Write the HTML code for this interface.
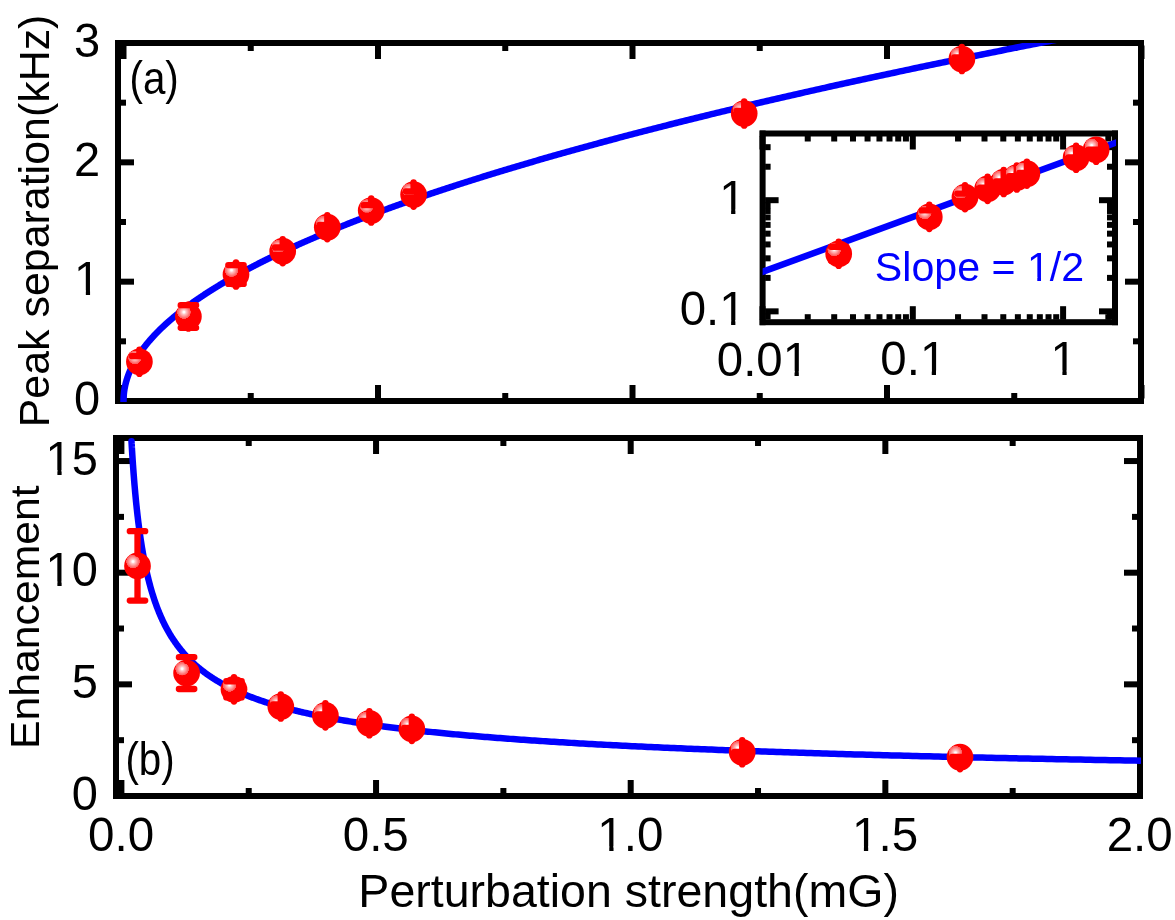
<!DOCTYPE html>
<html lang="en"><head><meta charset="utf-8"><title>Peak separation and enhancement vs perturbation strength</title>
<style>html,body{margin:0;padding:0;background:#fff;}body{width:1175px;height:920px;overflow:hidden;}svg{display:block;}text{font-family:"Liberation Sans",sans-serif;}</style>
</head><body>
<svg width="1175" height="920" viewBox="0 0 1175 920" font-family="'Liberation Sans', sans-serif">
<defs><radialGradient id="sph" cx="0.332" cy="0.336" r="0.256" fx="0.332" fy="0.336"><stop offset="0" stop-color="#fff"/><stop offset="0.13" stop-color="#fff"/><stop offset="0.3" stop-color="#ffcccc"/><stop offset="0.55" stop-color="#ffa0a0"/><stop offset="0.78" stop-color="#ff7676"/><stop offset="0.97" stop-color="#ff5a5a"/><stop offset="1" stop-color="#f00"/></radialGradient>
<clipPath id="ca"><rect x="118" y="43" width="1023" height="359"/></clipPath>
<clipPath id="cb"><rect x="116" y="433" width="1025" height="363"/></clipPath>
<clipPath id="ci"><rect x="762.6" y="133.5" width="353.4" height="188.7"/></clipPath>
</defs>
<rect width="1175" height="920" fill="#fff"/>
<rect x="115.00" y="40.00" width="1029.00" height="6.00" fill="#000"/>
<rect x="115.00" y="398.00" width="1029.00" height="6.00" fill="#000"/>
<rect x="115.00" y="40.00" width="6.00" height="364.00" fill="#000"/>
<rect x="1138.00" y="40.00" width="6.00" height="364.00" fill="#000"/>
<rect x="120.50" y="45.50" width="6.00" height="13.50" fill="#000"/>
<rect x="120.50" y="385.00" width="6.00" height="13.50" fill="#000"/>
<rect x="375.00" y="45.50" width="6.00" height="13.50" fill="#000"/>
<rect x="375.00" y="385.00" width="6.00" height="13.50" fill="#000"/>
<rect x="629.50" y="45.50" width="6.00" height="13.50" fill="#000"/>
<rect x="629.50" y="385.00" width="6.00" height="13.50" fill="#000"/>
<rect x="884.00" y="45.50" width="6.00" height="13.50" fill="#000"/>
<rect x="884.00" y="385.00" width="6.00" height="13.50" fill="#000"/>
<rect x="1138.50" y="45.50" width="6.00" height="13.50" fill="#000"/>
<rect x="1138.50" y="385.00" width="6.00" height="13.50" fill="#000"/>
<rect x="247.75" y="45.50" width="6.00" height="5.50" fill="#000"/>
<rect x="247.75" y="393.00" width="6.00" height="5.50" fill="#000"/>
<rect x="502.25" y="45.50" width="6.00" height="5.50" fill="#000"/>
<rect x="502.25" y="393.00" width="6.00" height="5.50" fill="#000"/>
<rect x="756.75" y="45.50" width="6.00" height="5.50" fill="#000"/>
<rect x="756.75" y="393.00" width="6.00" height="5.50" fill="#000"/>
<rect x="1011.25" y="45.50" width="6.00" height="5.50" fill="#000"/>
<rect x="1011.25" y="393.00" width="6.00" height="5.50" fill="#000"/>
<rect x="120.50" y="398.00" width="13.50" height="6.00" fill="#000"/>
<rect x="1125.00" y="398.00" width="13.50" height="6.00" fill="#000"/>
<rect x="120.50" y="278.67" width="13.50" height="6.00" fill="#000"/>
<rect x="1125.00" y="278.67" width="13.50" height="6.00" fill="#000"/>
<rect x="120.50" y="159.34" width="13.50" height="6.00" fill="#000"/>
<rect x="1125.00" y="159.34" width="13.50" height="6.00" fill="#000"/>
<rect x="120.50" y="40.01" width="13.50" height="6.00" fill="#000"/>
<rect x="1125.00" y="40.01" width="13.50" height="6.00" fill="#000"/>
<rect x="120.50" y="338.33" width="5.50" height="6.00" fill="#000"/>
<rect x="1133.00" y="338.33" width="5.50" height="6.00" fill="#000"/>
<rect x="120.50" y="219.00" width="5.50" height="6.00" fill="#000"/>
<rect x="1133.00" y="219.00" width="5.50" height="6.00" fill="#000"/>
<rect x="120.50" y="99.68" width="5.50" height="6.00" fill="#000"/>
<rect x="1133.00" y="99.68" width="5.50" height="6.00" fill="#000"/>
<path clip-path="url(#ca)" d="M123.50 403.00L123.50 401.00L123.50 400.37L123.51 399.74L123.53 399.11L123.55 398.48L123.57 397.86L123.60 397.23L123.64 396.60L123.68 395.97L123.73 395.34L123.78 394.71L123.84 394.08L123.91 393.45L123.98 392.82L124.05 392.20L124.14 391.57L124.22 390.94L124.32 390.31L124.42 389.68L124.52 389.05L124.63 388.42L124.75 387.79L124.87 387.16L125.00 386.53L125.13 385.91L125.27 385.28L125.41 384.65L125.56 384.02L125.72 383.39L125.88 382.76L126.05 382.13L126.22 381.50L126.40 380.87L126.58 380.25L126.77 379.62L126.96 378.99L127.16 378.36L127.37 377.73L127.58 377.10L127.80 376.47L128.02 375.84L128.25 375.21L128.49 374.59L128.73 373.96L128.97 373.33L129.23 372.70L129.48 372.07L129.75 371.44L130.02 370.81L130.29 370.18L130.57 369.55L130.86 368.92L131.15 368.30L131.44 367.67L131.75 367.04L132.05 366.41L132.37 365.78L132.69 365.15L133.01 364.52L133.34 363.89L133.68 363.26L134.02 362.64L134.37 362.01L134.72 361.38L135.08 360.75L135.45 360.12L135.82 359.49L136.19 358.86L136.58 358.23L136.96 357.60L137.36 356.98L137.75 356.35L138.16 355.72L138.57 355.09L138.98 354.46L139.41 353.83L139.83 353.20L140.27 352.57L140.70 351.94L141.15 351.31L141.60 350.69L142.05 350.06L142.51 349.43L142.98 348.80L143.45 348.17L143.93 347.54L144.41 346.91L144.90 346.28L145.40 345.65L145.90 345.03L146.41 344.40L146.92 343.77L147.43 343.14L147.96 342.51L148.49 341.88L149.02 341.25L149.56 340.62L150.11 339.99L150.66 339.37L151.22 338.74L151.78 338.11L152.35 337.48L152.92 336.85L153.50 336.22L154.09 335.59L154.68 334.96L155.27 334.33L155.88 333.71L156.48 333.08L157.10 332.45L157.72 331.82L158.34 331.19L158.97 330.56L159.61 329.93L160.25 329.30L160.90 328.67L161.55 328.04L162.21 327.42L162.87 326.79L163.54 326.16L164.22 325.53L164.90 324.90L165.59 324.27L166.28 323.64L166.98 323.01L167.68 322.38L168.39 321.76L169.11 321.13L169.83 320.50L170.56 319.87L171.29 319.24L172.03 318.61L172.77 317.98L173.52 317.35L174.28 316.72L175.04 316.10L175.80 315.47L176.57 314.84L177.35 314.21L178.14 313.58L178.92 312.95L179.72 312.32L180.52 311.69L181.33 311.06L182.14 310.43L182.95 309.81L183.78 309.18L184.61 308.55L185.44 307.92L186.28 307.29L187.12 306.66L187.98 306.03L188.83 305.40L189.70 304.77L190.56 304.15L191.44 303.52L192.32 302.89L193.20 302.26L194.09 301.63L194.99 301.00L195.89 300.37L196.80 299.74L197.71 299.11L198.63 298.49L199.56 297.86L200.49 297.23L201.42 296.60L202.36 295.97L203.31 295.34L204.26 294.71L205.22 294.08L206.19 293.45L207.16 292.83L208.13 292.20L209.11 291.57L210.10 290.94L211.09 290.31L212.09 289.68L213.10 289.05L214.10 288.42L215.12 287.79L216.14 287.16L217.17 286.54L218.20 285.91L219.24 285.28L220.28 284.65L221.33 284.02L222.38 283.39L223.44 282.76L224.51 282.13L225.58 281.50L226.66 280.88L227.74 280.25L228.83 279.62L229.93 278.99L231.03 278.36L232.13 277.73L233.24 277.10L234.36 276.47L235.48 275.84L236.61 275.22L237.75 274.59L238.88 273.96L240.03 273.33L241.18 272.70L242.34 272.07L243.50 271.44L244.67 270.81L245.84 270.18L247.02 269.55L248.20 268.93L249.40 268.30L250.59 267.67L251.79 267.04L253.00 266.41L254.21 265.78L255.43 265.15L256.66 264.52L257.89 263.89L259.12 263.27L260.36 262.64L261.61 262.01L262.86 261.38L264.12 260.75L265.39 260.12L266.66 259.49L267.93 258.86L269.21 258.23L270.50 257.61L271.79 256.98L273.09 256.35L274.39 255.72L275.70 255.09L277.02 254.46L278.34 253.83L279.66 253.20L281.00 252.57L282.33 251.94L283.68 251.32L285.03 250.69L286.38 250.06L287.74 249.43L289.11 248.80L290.48 248.17L291.85 247.54L293.24 246.91L294.63 246.28L296.02 245.66L297.42 245.03L298.83 244.40L300.24 243.77L301.65 243.14L303.08 242.51L304.50 241.88L305.94 241.25L307.38 240.62L308.82 240.00L310.27 239.37L311.73 238.74L313.19 238.11L314.66 237.48L316.13 236.85L317.61 236.22L319.09 235.59L320.58 234.96L322.08 234.34L323.58 233.71L325.09 233.08L326.60 232.45L328.12 231.82L329.64 231.19L331.17 230.56L332.71 229.93L334.25 229.30L335.80 228.67L337.35 228.05L338.91 227.42L340.47 226.79L342.04 226.16L343.62 225.53L345.20 224.90L346.78 224.27L348.38 223.64L349.97 223.01L351.58 222.39L353.19 221.76L354.80 221.13L356.42 220.50L358.05 219.87L359.68 219.24L361.32 218.61L362.96 217.98L364.61 217.35L366.26 216.73L367.92 216.10L369.59 215.47L371.26 214.84L372.94 214.21L374.62 213.58L376.31 212.95L378.00 212.32L379.70 211.69L381.40 211.06L383.12 210.44L384.83 209.81L386.55 209.18L388.28 208.55L390.02 207.92L391.75 207.29L393.50 206.66L395.25 206.03L397.01 205.40L398.77 204.78L400.53 204.15L402.31 203.52L404.09 202.89L405.87 202.26L407.66 201.63L409.46 201.00L411.26 200.37L413.06 199.74L414.88 199.12L416.70 198.49L418.52 197.86L420.35 197.23L422.18 196.60L424.02 195.97L425.87 195.34L427.72 194.71L429.58 194.08L431.45 193.45L433.31 192.83L435.19 192.20L437.07 191.57L438.96 190.94L440.85 190.31L442.74 189.68L444.65 189.05L446.56 188.42L448.47 187.79L450.39 187.17L452.32 186.54L454.25 185.91L456.19 185.28L458.13 184.65L460.08 184.02L462.03 183.39L463.99 182.76L465.96 182.13L467.93 181.51L469.90 180.88L471.89 180.25L473.87 179.62L475.87 178.99L477.87 178.36L479.87 177.73L481.88 177.10L483.90 176.47L485.92 175.85L487.95 175.22L489.98 174.59L492.02 173.96L494.06 173.33L496.11 172.70L498.17 172.07L500.23 171.44L502.30 170.81L504.37 170.18L506.45 169.56L508.53 168.93L510.62 168.30L512.72 167.67L514.82 167.04L516.93 166.41L519.04 165.78L521.16 165.15L523.28 164.52L525.41 163.90L527.54 163.27L529.68 162.64L531.83 162.01L533.98 161.38L536.14 160.75L538.30 160.12L540.47 159.49L542.65 158.86L544.83 158.24L547.01 157.61L549.20 156.98L551.40 156.35L553.61 155.72L555.81 155.09L558.03 154.46L560.25 153.83L562.47 153.20L564.70 152.57L566.94 151.95L569.18 151.32L571.43 150.69L573.69 150.06L575.94 149.43L578.21 148.80L580.48 148.17L582.76 147.54L585.04 146.91L587.33 146.29L589.62 145.66L591.92 145.03L594.22 144.40L596.53 143.77L598.85 143.14L601.17 142.51L603.50 141.88L605.83 141.25L608.17 140.63L610.51 140.00L612.86 139.37L615.22 138.74L617.58 138.11L619.95 137.48L622.32 136.85L624.70 136.22L627.08 135.59L629.47 134.97L631.87 134.34L634.27 133.71L636.67 133.08L639.09 132.45L641.50 131.82L643.93 131.19L646.36 130.56L648.79 129.93L651.23 129.30L653.68 128.68L656.13 128.05L658.59 127.42L661.05 126.79L663.52 126.16L665.99 125.53L668.47 124.90L670.96 124.27L673.45 123.64L675.95 123.02L678.45 122.39L680.96 121.76L683.47 121.13L685.99 120.50L688.52 119.87L691.05 119.24L693.58 118.61L696.12 117.98L698.67 117.36L701.23 116.73L703.79 116.10L706.35 115.47L708.92 114.84L711.50 114.21L714.08 113.58L716.67 112.95L719.26 112.32L721.86 111.69L724.46 111.07L727.07 110.44L729.69 109.81L732.31 109.18L734.94 108.55L737.57 107.92L740.21 107.29L742.85 106.66L745.50 106.03L748.16 105.41L750.82 104.78L753.48 104.15L756.16 103.52L758.83 102.89L761.52 102.26L764.21 101.63L766.90 101.00L769.60 100.37L772.31 99.75L775.02 99.12L777.74 98.49L780.46 97.86L783.19 97.23L785.92 96.60L788.66 95.97L791.41 95.34L794.16 94.71L796.92 94.08L799.68 93.46L802.45 92.83L805.22 92.20L808.00 91.57L810.79 90.94L813.58 90.31L816.38 89.68L819.18 89.05L821.99 88.42L824.80 87.80L827.62 87.17L830.44 86.54L833.28 85.91L836.11 85.28L838.95 84.65L841.80 84.02L844.65 83.39L847.51 82.76L850.38 82.14L853.25 81.51L856.12 80.88L859.00 80.25L861.89 79.62L864.78 78.99L867.68 78.36L870.59 77.73L873.50 77.10L876.41 76.48L879.33 75.85L882.26 75.22L885.19 74.59L888.13 73.96L891.07 73.33L894.02 72.70L896.98 72.07L899.94 71.44L902.91 70.81L905.88 70.19L908.86 69.56L911.84 68.93L914.83 68.30L917.82 67.67L920.82 67.04L923.83 66.41L926.84 65.78L929.86 65.15L932.88 64.53L935.91 63.90L938.94 63.27L941.98 62.64L945.03 62.01L948.08 61.38L951.14 60.75L954.20 60.12L957.27 59.49L960.34 58.87L963.42 58.24L966.51 57.61L969.60 56.98L972.69 56.35L975.80 55.72L978.90 55.09L982.02 54.46L985.14 53.83L988.26 53.20L991.39 52.58L994.53 51.95L997.67 51.32L1000.82 50.69L1003.97 50.06L1007.13 49.43L1010.29 48.80L1013.46 48.17L1016.64 47.54L1019.82 46.92L1023.00 46.29L1026.20 45.66L1029.40 45.03L1032.60 44.40L1035.81 43.77L1039.02 43.14L1042.24 42.51L1045.47 41.88L1048.70 41.26L1051.94 40.63L1055.18 40.00L1058.43 39.37L1061.69 38.74L1064.95 38.11L1068.22 37.48L1071.49 36.85L1074.76 36.22L1078.05 35.59L1081.34 34.97L1084.63 34.34L1087.93 33.71L1091.24 33.08L1094.55 32.45L1097.86 31.82L1101.19 31.19L1104.52 30.56L1107.85 29.93L1111.19 29.31L1114.53 28.68L1117.89 28.05L1121.24 27.42L1124.60 26.79L1127.97 26.16L1131.35 25.53L1134.72 24.90L1138.11 24.27L1141.50 23.65" stroke="#00f" stroke-width="6.5" fill="none" stroke-linejoin="round"/>
<rect x="113.00" y="435.00" width="1030.00" height="6.00" fill="#000"/>
<rect x="113.00" y="793.00" width="1030.00" height="6.00" fill="#000"/>
<rect x="113.00" y="435.00" width="6.00" height="364.00" fill="#000"/>
<rect x="1137.00" y="435.00" width="6.00" height="364.00" fill="#000"/>
<rect x="118.40" y="440.50" width="6.00" height="13.50" fill="#000"/>
<rect x="118.40" y="780.00" width="6.00" height="13.50" fill="#000"/>
<rect x="373.05" y="440.50" width="6.00" height="13.50" fill="#000"/>
<rect x="373.05" y="780.00" width="6.00" height="13.50" fill="#000"/>
<rect x="627.70" y="440.50" width="6.00" height="13.50" fill="#000"/>
<rect x="627.70" y="780.00" width="6.00" height="13.50" fill="#000"/>
<rect x="882.35" y="440.50" width="6.00" height="13.50" fill="#000"/>
<rect x="882.35" y="780.00" width="6.00" height="13.50" fill="#000"/>
<rect x="1137.00" y="440.50" width="6.00" height="13.50" fill="#000"/>
<rect x="1137.00" y="780.00" width="6.00" height="13.50" fill="#000"/>
<rect x="245.73" y="440.50" width="6.00" height="5.50" fill="#000"/>
<rect x="245.73" y="788.00" width="6.00" height="5.50" fill="#000"/>
<rect x="500.38" y="440.50" width="6.00" height="5.50" fill="#000"/>
<rect x="500.38" y="788.00" width="6.00" height="5.50" fill="#000"/>
<rect x="755.02" y="440.50" width="6.00" height="5.50" fill="#000"/>
<rect x="755.02" y="788.00" width="6.00" height="5.50" fill="#000"/>
<rect x="1009.67" y="440.50" width="6.00" height="5.50" fill="#000"/>
<rect x="1009.67" y="788.00" width="6.00" height="5.50" fill="#000"/>
<rect x="118.50" y="793.00" width="13.50" height="6.00" fill="#000"/>
<rect x="1124.00" y="793.00" width="13.50" height="6.00" fill="#000"/>
<rect x="118.50" y="681.35" width="13.50" height="6.00" fill="#000"/>
<rect x="1124.00" y="681.35" width="13.50" height="6.00" fill="#000"/>
<rect x="118.50" y="569.70" width="13.50" height="6.00" fill="#000"/>
<rect x="1124.00" y="569.70" width="13.50" height="6.00" fill="#000"/>
<rect x="118.50" y="458.05" width="13.50" height="6.00" fill="#000"/>
<rect x="1124.00" y="458.05" width="13.50" height="6.00" fill="#000"/>
<rect x="118.50" y="737.17" width="5.50" height="6.00" fill="#000"/>
<rect x="1132.00" y="737.17" width="5.50" height="6.00" fill="#000"/>
<rect x="118.50" y="625.52" width="5.50" height="6.00" fill="#000"/>
<rect x="1132.00" y="625.52" width="5.50" height="6.00" fill="#000"/>
<rect x="118.50" y="513.88" width="5.50" height="6.00" fill="#000"/>
<rect x="1132.00" y="513.88" width="5.50" height="6.00" fill="#000"/>
<path clip-path="url(#cb)" d="M131.49 441.33L131.49 441.33L131.49 441.33L131.49 441.33L131.49 441.34L131.49 441.34L131.50 441.35L131.50 441.36L131.50 441.37L131.50 441.39L131.50 441.41L131.50 441.44L131.50 441.47L131.50 441.51L131.51 441.56L131.51 441.61L131.51 441.67L131.52 441.73L131.52 441.81L131.53 441.89L131.53 441.99L131.54 442.09L131.54 442.20L131.55 442.33L131.56 442.46L131.57 442.61L131.58 442.77L131.59 442.94L131.60 443.12L131.61 443.32L131.62 443.53L131.63 443.75L131.65 443.99L131.66 444.24L131.68 444.51L131.69 444.80L131.71 445.10L131.73 445.42L131.75 445.75L131.77 446.10L131.79 446.47L131.82 446.85L131.84 447.26L131.87 447.68L131.89 448.12L131.92 448.58L131.95 449.06L131.98 449.55L132.01 450.07L132.04 450.61L132.08 451.16L132.11 451.74L132.15 452.33L132.19 452.95L132.23 453.58L132.27 454.24L132.31 454.91L132.36 455.61L132.41 456.33L132.45 457.07L132.50 457.82L132.55 458.60L132.61 459.40L132.66 460.22L132.72 461.06L132.78 461.92L132.84 462.80L132.90 463.69L132.96 464.61L133.03 465.55L133.10 466.51L133.17 467.48L133.24 468.48L133.31 469.49L133.39 470.53L133.46 471.58L133.54 472.64L133.63 473.73L133.71 474.83L133.80 475.95L133.88 477.09L133.98 478.24L134.07 479.41L134.16 480.60L134.26 481.80L134.36 483.01L134.46 484.24L134.57 485.48L134.68 486.74L134.79 488.01L134.90 489.29L135.01 490.59L135.13 491.89L135.25 493.21L135.37 494.54L135.50 495.88L135.63 497.23L135.76 498.59L135.89 499.96L136.02 501.34L136.16 502.73L136.30 504.12L136.45 505.53L136.60 506.94L136.75 508.35L136.90 509.78L137.06 511.21L137.21 512.64L137.38 514.08L137.54 515.52L137.71 516.97L137.88 518.42L138.05 519.88L138.23 521.34L138.41 522.80L138.60 524.26L138.78 525.72L138.97 527.19L139.17 528.66L139.36 530.12L139.56 531.59L139.77 533.06L139.97 534.53L140.18 536.00L140.40 537.46L140.61 538.93L140.83 540.39L141.06 541.85L141.29 543.31L141.52 544.77L141.75 546.22L141.99 547.67L142.23 549.12L142.48 550.56L142.73 552.00L142.98 553.44L143.24 554.87L143.50 556.30L143.76 557.73L144.03 559.14L144.31 560.56L144.58 561.97L144.86 563.37L145.15 564.77L145.44 566.16L145.73 567.54L146.02 568.92L146.33 570.30L146.63 571.66L146.94 573.02L147.25 574.38L147.57 575.73L147.89 577.07L148.22 578.40L148.55 579.73L148.88 581.05L149.22 582.36L149.56 583.66L149.91 584.96L150.26 586.25L150.62 587.54L150.98 588.81L151.34 590.08L151.71 591.34L152.09 592.59L152.47 593.84L152.85 595.07L153.24 596.30L153.63 597.52L154.03 598.74L154.43 599.94L154.84 601.14L155.25 602.33L155.67 603.51L156.09 604.68L156.52 605.85L156.95 607.01L157.39 608.16L157.83 609.30L158.27 610.43L158.72 611.56L159.18 612.67L159.64 613.78L160.11 614.88L160.58 615.98L161.06 617.06L161.54 618.14L162.03 619.21L162.52 620.27L163.02 621.33L163.52 622.37L164.03 623.41L164.54 624.44L165.06 625.46L165.58 626.48L166.11 627.49L166.65 628.49L167.19 629.48L167.74 630.46L168.29 631.44L168.85 632.41L169.41 633.37L169.98 634.33L170.55 635.27L171.13 636.21L171.72 637.15L172.31 638.07L172.91 638.99L173.51 639.90L174.12 640.81L174.73 641.70L175.35 642.59L175.98 643.48L176.61 644.35L177.25 645.22L177.90 646.08L178.55 646.94L179.20 647.79L179.87 648.63L180.54 649.47L181.21 650.30L181.89 651.12L182.58 651.93L183.27 652.74L183.97 653.55L184.68 654.34L185.39 655.13L186.11 655.92L186.83 656.70L187.56 657.47L188.30 658.23L189.05 658.99L189.80 659.75L190.55 660.50L191.32 661.24L192.09 661.97L192.86 662.70L193.65 663.43L194.44 664.15L195.24 664.86L196.04 665.57L196.85 666.27L197.67 666.97L198.49 667.66L199.32 668.35L200.16 669.03L201.00 669.70L201.85 670.37L202.71 671.04L203.58 671.69L204.45 672.35L205.33 673.00L206.21 673.64L207.11 674.28L208.01 674.92L208.91 675.55L209.83 676.17L210.75 676.79L211.68 677.40L212.61 678.01L213.56 678.62L214.51 679.22L215.47 679.82L216.43 680.41L217.40 680.99L218.38 681.58L219.37 682.16L220.36 682.73L221.37 683.30L222.38 683.86L223.39 684.42L224.42 684.98L225.45 685.53L226.49 686.08L227.54 686.62L228.60 687.16L229.66 687.70L230.73 688.23L231.81 688.76L232.89 689.28L233.99 689.80L235.09 690.32L236.20 690.83L237.32 691.34L238.44 691.84L239.58 692.34L240.72 692.84L241.87 693.33L243.03 693.82L244.19 694.31L245.37 694.79L246.55 695.27L247.74 695.75L248.94 696.22L250.14 696.69L251.36 697.15L252.58 697.62L253.81 698.07L255.05 698.53L256.30 698.98L257.56 699.43L258.82 699.88L260.10 700.32L261.38 700.76L262.67 701.19L263.97 701.63L265.27 702.06L266.59 702.48L267.91 702.91L269.25 703.33L270.59 703.74L271.94 704.16L273.30 704.57L274.67 704.98L276.04 705.39L277.43 705.79L278.82 706.19L280.23 706.59L281.64 706.98L283.06 707.37L284.49 707.76L285.93 708.15L287.37 708.53L288.83 708.92L290.30 709.29L291.77 709.67L293.26 710.04L294.75 710.41L296.25 710.78L297.76 711.15L299.28 711.51L300.81 711.87L302.35 712.23L303.90 712.59L305.46 712.94L307.03 713.29L308.60 713.64L310.19 713.99L311.79 714.33L313.39 714.68L315.01 715.02L316.63 715.35L318.26 715.69L319.91 716.02L321.56 716.35L323.22 716.68L324.89 717.01L326.57 717.33L328.27 717.65L329.97 717.97L331.68 718.29L333.40 718.61L335.13 718.92L336.87 719.23L338.62 719.54L340.38 719.85L342.15 720.16L343.93 720.46L345.72 720.76L347.52 721.06L349.33 721.36L351.15 721.66L352.98 721.95L354.82 722.25L356.67 722.54L358.53 722.82L360.41 723.11L362.29 723.40L364.18 723.68L366.08 723.96L367.99 724.24L369.92 724.52L371.85 724.80L373.79 725.07L375.75 725.34L377.71 725.62L379.69 725.89L381.67 726.15L383.67 726.42L385.67 726.68L387.69 726.95L389.72 727.21L391.76 727.47L393.81 727.73L395.87 727.98L397.94 728.24L400.02 728.49L402.11 728.74L404.22 728.99L406.33 729.24L408.46 729.49L410.59 729.74L412.74 729.98L414.90 730.23L417.06 730.47L419.24 730.71L421.44 730.95L423.64 731.18L425.85 731.42L428.08 731.65L430.31 731.89L432.56 732.12L434.82 732.35L437.08 732.58L439.37 732.81L441.66 733.03L443.96 733.26L446.27 733.48L448.60 733.70L450.94 733.93L453.29 734.15L455.65 734.37L458.02 734.58L460.40 734.80L462.80 735.01L465.20 735.23L467.62 735.44L470.05 735.65L472.49 735.86L474.95 736.07L477.41 736.28L479.89 736.49L482.38 736.69L484.88 736.90L487.39 737.10L489.91 737.30L492.45 737.50L495.00 737.70L497.56 737.90L500.13 738.10L502.71 738.29L505.31 738.49L507.92 738.68L510.54 738.88L513.17 739.07L515.81 739.26L518.47 739.45L521.14 739.64L523.82 739.83L526.51 740.01L529.22 740.20L531.94 740.39L534.67 740.57L537.41 740.75L540.17 740.94L542.93 741.12L545.71 741.30L548.50 741.48L551.31 741.65L554.13 741.83L556.96 742.01L559.80 742.18L562.66 742.36L565.52 742.53L568.40 742.70L571.30 742.87L574.20 743.05L577.12 743.22L580.05 743.38L583.00 743.55L585.96 743.72L588.93 743.89L591.91 744.05L594.91 744.22L597.92 744.38L600.94 744.54L603.97 744.70L607.02 744.87L610.08 745.03L613.16 745.19L616.24 745.34L619.35 745.50L622.46 745.66L625.59 745.82L628.73 745.97L631.88 746.13L635.05 746.28L638.23 746.43L641.42 746.59L644.63 746.74L647.85 746.89L651.08 747.04L654.33 747.19L657.59 747.34L660.87 747.48L664.15 747.63L667.46 747.78L670.77 747.92L674.10 748.07L677.44 748.21L680.80 748.36L684.17 748.50L687.55 748.64L690.95 748.78L694.36 748.92L697.79 749.06L701.23 749.20L704.68 749.34L708.14 749.48L711.63 749.62L715.12 749.75L718.63 749.89L722.15 750.03L725.69 750.16L729.24 750.29L732.80 750.43L736.38 750.56L739.98 750.69L743.58 750.82L747.21 750.96L750.84 751.09L754.49 751.22L758.16 751.34L761.84 751.47L765.53 751.60L769.24 751.73L772.96 751.85L776.70 751.98L780.45 752.11L784.21 752.23L787.99 752.36L791.79 752.48L795.60 752.60L799.42 752.72L803.26 752.85L807.11 752.97L810.98 753.09L814.87 753.21L818.76 753.33L822.68 753.45L826.60 753.57L830.54 753.69L834.50 753.80L838.47 753.92L842.46 754.04L846.46 754.15L850.48 754.27L854.51 754.38L858.56 754.50L862.62 754.61L866.69 754.72L870.79 754.84L874.89 754.95L879.02 755.06L883.15 755.17L887.31 755.28L891.47 755.39L895.66 755.50L899.86 755.61L904.07 755.72L908.30 755.83L912.55 755.94L916.81 756.05L921.08 756.15L925.37 756.26L929.68 756.36L934.00 756.47L938.34 756.58L942.69 756.68L947.06 756.78L951.45 756.89L955.85 756.99L960.26 757.09L964.70 757.20L969.14 757.30L973.61 757.40L978.09 757.50L982.58 757.60L987.09 757.70L991.62 757.80L996.16 757.90L1000.72 758.00L1005.30 758.10L1009.89 758.20L1014.49 758.29L1019.12 758.39L1023.76 758.49L1028.41 758.58L1033.08 758.68L1037.77 758.78L1042.47 758.87L1047.19 758.97L1051.93 759.06L1056.68 759.15L1061.45 759.25L1066.24 759.34L1071.04 759.43L1075.86 759.53L1080.69 759.62L1085.54 759.71L1090.41 759.80L1095.29 759.89L1100.20 759.98L1105.11 760.07L1110.05 760.16L1115.00 760.25L1119.96 760.34L1124.95 760.43L1129.95 760.52L1134.97 760.61L1140.00 760.69" stroke="#00f" stroke-width="6.5" fill="none" stroke-linejoin="round" stroke-linecap="round"/>
<rect x="759.60" y="130.50" width="358.40" height="6.00" fill="#000"/>
<rect x="759.60" y="319.20" width="358.40" height="6.00" fill="#000"/>
<rect x="759.60" y="130.50" width="6.00" height="194.70" fill="#000"/>
<rect x="1112.00" y="130.50" width="6.00" height="194.70" fill="#000"/>
<rect x="759.50" y="136.00" width="6.00" height="13.50" fill="#000"/>
<rect x="759.50" y="306.20" width="6.00" height="13.50" fill="#000"/>
<rect x="909.80" y="136.00" width="6.00" height="13.50" fill="#000"/>
<rect x="909.80" y="306.20" width="6.00" height="13.50" fill="#000"/>
<rect x="1060.10" y="136.00" width="6.00" height="13.50" fill="#000"/>
<rect x="1060.10" y="306.20" width="6.00" height="13.50" fill="#000"/>
<rect x="804.74" y="136.00" width="6.00" height="5.50" fill="#000"/>
<rect x="804.74" y="314.20" width="6.00" height="5.50" fill="#000"/>
<rect x="831.21" y="136.00" width="6.00" height="5.50" fill="#000"/>
<rect x="831.21" y="314.20" width="6.00" height="5.50" fill="#000"/>
<rect x="849.99" y="136.00" width="6.00" height="5.50" fill="#000"/>
<rect x="849.99" y="314.20" width="6.00" height="5.50" fill="#000"/>
<rect x="864.56" y="136.00" width="6.00" height="5.50" fill="#000"/>
<rect x="864.56" y="314.20" width="6.00" height="5.50" fill="#000"/>
<rect x="876.46" y="136.00" width="6.00" height="5.50" fill="#000"/>
<rect x="876.46" y="314.20" width="6.00" height="5.50" fill="#000"/>
<rect x="886.52" y="136.00" width="6.00" height="5.50" fill="#000"/>
<rect x="886.52" y="314.20" width="6.00" height="5.50" fill="#000"/>
<rect x="895.23" y="136.00" width="6.00" height="5.50" fill="#000"/>
<rect x="895.23" y="314.20" width="6.00" height="5.50" fill="#000"/>
<rect x="902.92" y="136.00" width="6.00" height="5.50" fill="#000"/>
<rect x="902.92" y="314.20" width="6.00" height="5.50" fill="#000"/>
<rect x="955.04" y="136.00" width="6.00" height="5.50" fill="#000"/>
<rect x="955.04" y="314.20" width="6.00" height="5.50" fill="#000"/>
<rect x="981.51" y="136.00" width="6.00" height="5.50" fill="#000"/>
<rect x="981.51" y="314.20" width="6.00" height="5.50" fill="#000"/>
<rect x="1000.29" y="136.00" width="6.00" height="5.50" fill="#000"/>
<rect x="1000.29" y="314.20" width="6.00" height="5.50" fill="#000"/>
<rect x="1014.86" y="136.00" width="6.00" height="5.50" fill="#000"/>
<rect x="1014.86" y="314.20" width="6.00" height="5.50" fill="#000"/>
<rect x="1026.76" y="136.00" width="6.00" height="5.50" fill="#000"/>
<rect x="1026.76" y="314.20" width="6.00" height="5.50" fill="#000"/>
<rect x="1036.82" y="136.00" width="6.00" height="5.50" fill="#000"/>
<rect x="1036.82" y="314.20" width="6.00" height="5.50" fill="#000"/>
<rect x="1045.53" y="136.00" width="6.00" height="5.50" fill="#000"/>
<rect x="1045.53" y="314.20" width="6.00" height="5.50" fill="#000"/>
<rect x="1053.22" y="136.00" width="6.00" height="5.50" fill="#000"/>
<rect x="1053.22" y="314.20" width="6.00" height="5.50" fill="#000"/>
<rect x="1105.34" y="136.00" width="6.00" height="5.50" fill="#000"/>
<rect x="1105.34" y="314.20" width="6.00" height="5.50" fill="#000"/>
<rect x="765.10" y="308.35" width="13.50" height="6.00" fill="#000"/>
<rect x="1099.00" y="308.35" width="13.50" height="6.00" fill="#000"/>
<rect x="765.10" y="197.20" width="13.50" height="6.00" fill="#000"/>
<rect x="1099.00" y="197.20" width="13.50" height="6.00" fill="#000"/>
<rect x="765.10" y="313.44" width="5.50" height="6.00" fill="#000"/>
<rect x="1107.00" y="313.44" width="5.50" height="6.00" fill="#000"/>
<rect x="765.10" y="274.89" width="5.50" height="6.00" fill="#000"/>
<rect x="1107.00" y="274.89" width="5.50" height="6.00" fill="#000"/>
<rect x="765.10" y="255.32" width="5.50" height="6.00" fill="#000"/>
<rect x="1107.00" y="255.32" width="5.50" height="6.00" fill="#000"/>
<rect x="765.10" y="241.43" width="5.50" height="6.00" fill="#000"/>
<rect x="1107.00" y="241.43" width="5.50" height="6.00" fill="#000"/>
<rect x="765.10" y="230.66" width="5.50" height="6.00" fill="#000"/>
<rect x="1107.00" y="230.66" width="5.50" height="6.00" fill="#000"/>
<rect x="765.10" y="221.86" width="5.50" height="6.00" fill="#000"/>
<rect x="1107.00" y="221.86" width="5.50" height="6.00" fill="#000"/>
<rect x="765.10" y="214.42" width="5.50" height="6.00" fill="#000"/>
<rect x="1107.00" y="214.42" width="5.50" height="6.00" fill="#000"/>
<rect x="765.10" y="207.97" width="5.50" height="6.00" fill="#000"/>
<rect x="1107.00" y="207.97" width="5.50" height="6.00" fill="#000"/>
<rect x="765.10" y="202.29" width="5.50" height="6.00" fill="#000"/>
<rect x="1107.00" y="202.29" width="5.50" height="6.00" fill="#000"/>
<rect x="765.10" y="163.74" width="5.50" height="6.00" fill="#000"/>
<rect x="1107.00" y="163.74" width="5.50" height="6.00" fill="#000"/>
<rect x="765.10" y="144.17" width="5.50" height="6.00" fill="#000"/>
<rect x="1107.00" y="144.17" width="5.50" height="6.00" fill="#000"/>
<path clip-path="url(#ci)" d="M750 276.41L1130 137.52" stroke="#00f" stroke-width="6.5" fill="none"/>
<circle cx="838.70" cy="253.80" r="13.35" fill="url(#sph)"/>
<path d="M838.70 241.65L838.70 246.73M831.00 246.73L846.40 246.73M838.70 265.95L838.70 260.87M831.00 260.87L846.40 260.87" stroke="#f00" stroke-width="6.3" stroke-linecap="round" fill="none"/>
<circle cx="929.30" cy="216.90" r="13.35" fill="url(#sph)"/>
<path d="M929.30 204.75L929.30 210.41M921.60 210.41L937.00 210.41M929.30 229.05L929.30 223.39M921.60 223.39L937.00 223.39" stroke="#f00" stroke-width="6.3" stroke-linecap="round" fill="none"/>
<circle cx="965.00" cy="197.20" r="13.35" fill="url(#sph)"/>
<path d="M965.00 185.05L965.00 193.61M957.30 193.61L972.70 193.61M965.00 209.35L965.00 200.79M957.30 200.79L972.70 200.79" stroke="#f00" stroke-width="6.3" stroke-linecap="round" fill="none"/>
<circle cx="987.60" cy="188.90" r="13.35" fill="url(#sph)"/>
<path d="M987.60 176.75L987.60 187.71M979.90 187.71L995.30 187.71M987.60 201.05L987.60 190.09M979.90 190.09L995.30 190.09" stroke="#f00" stroke-width="6.3" stroke-linecap="round" fill="none"/>
<circle cx="1003.70" cy="182.00" r="13.35" fill="url(#sph)"/>
<path d="M1003.70 169.85L1003.70 181.39M996.00 181.39L1011.40 181.39M1003.70 194.15L1003.70 182.61M996.00 182.61L1011.40 182.61" stroke="#f00" stroke-width="6.3" stroke-linecap="round" fill="none"/>
<circle cx="1016.80" cy="177.50" r="13.35" fill="url(#sph)"/>
<path d="M1016.80 165.35L1016.80 176.16M1009.10 176.16L1024.50 176.16M1016.80 189.65L1016.80 178.84M1009.10 178.84L1024.50 178.84" stroke="#f00" stroke-width="6.3" stroke-linecap="round" fill="none"/>
<circle cx="1026.90" cy="173.70" r="13.35" fill="url(#sph)"/>
<path d="M1026.90 161.55L1026.90 172.93M1019.20 172.93L1034.60 172.93M1026.90 185.85L1026.90 174.47M1019.20 174.47L1034.60 174.47" stroke="#f00" stroke-width="6.3" stroke-linecap="round" fill="none"/>
<circle cx="1076.10" cy="157.80" r="13.35" fill="url(#sph)"/>
<path d="M1076.10 145.65L1076.10 157.35M1068.40 157.35L1083.80 157.35M1076.10 169.95L1076.10 158.25M1068.40 158.25L1083.80 158.25" stroke="#f00" stroke-width="6.3" stroke-linecap="round" fill="none"/>
<circle cx="1096.15" cy="149.80" r="13.35" fill="url(#sph)"/>
<path d="M1088.45 149.57L1103.85 149.57M1096.15 161.95L1096.15 150.03M1088.45 150.03L1103.85 150.03" stroke="#f00" stroke-width="6.3" stroke-linecap="round" fill="none"/>
<circle cx="139.40" cy="361.80" r="13.35" fill="url(#sph)"/>
<path d="M139.40 349.65L139.40 356.10M131.70 356.10L147.10 356.10M139.40 373.95L139.40 367.50M131.70 367.50L147.10 367.50" stroke="#f00" stroke-width="6.3" stroke-linecap="round" fill="none"/>
<circle cx="188.40" cy="316.50" r="13.35" fill="url(#sph)"/>
<path d="M188.40 304.35L188.40 305.20M180.70 305.20L196.10 305.20M188.40 328.65L188.40 327.80M180.70 327.80L196.10 327.80" stroke="#f00" stroke-width="6.3" stroke-linecap="round" fill="none"/>
<circle cx="236.00" cy="274.50" r="13.35" fill="url(#sph)"/>
<path d="M236.00 262.35L236.00 265.10M228.30 265.10L243.70 265.10M236.00 286.65L236.00 283.90M228.30 283.90L243.70 283.90" stroke="#f00" stroke-width="6.3" stroke-linecap="round" fill="none"/>
<circle cx="282.70" cy="251.20" r="13.35" fill="url(#sph)"/>
<path d="M282.70 239.05L282.70 247.50M275.00 247.50L290.40 247.50M282.70 263.35L282.70 254.90M275.00 254.90L290.40 254.90" stroke="#f00" stroke-width="6.3" stroke-linecap="round" fill="none"/>
<circle cx="327.30" cy="227.20" r="13.35" fill="url(#sph)"/>
<path d="M327.30 215.05L327.30 225.00M319.60 225.00L335.00 225.00M327.30 239.35L327.30 229.40M319.60 229.40L335.00 229.40" stroke="#f00" stroke-width="6.3" stroke-linecap="round" fill="none"/>
<circle cx="371.20" cy="210.50" r="13.35" fill="url(#sph)"/>
<path d="M371.20 198.35L371.20 205.20M363.50 205.20L378.90 205.20M371.20 222.65L371.20 215.80M363.50 215.80L378.90 215.80" stroke="#f00" stroke-width="6.3" stroke-linecap="round" fill="none"/>
<circle cx="413.60" cy="194.60" r="13.35" fill="url(#sph)"/>
<path d="M413.60 182.45L413.60 191.30M405.90 191.30L421.30 191.30M413.60 206.75L413.60 197.90M405.90 197.90L421.30 197.90" stroke="#f00" stroke-width="6.3" stroke-linecap="round" fill="none"/>
<circle cx="744.20" cy="113.50" r="13.35" fill="url(#sph)"/>
<path d="M744.20 101.35L744.20 110.80M736.50 110.80L751.90 110.80M744.20 125.65L744.20 116.20M736.50 116.20L751.90 116.20" stroke="#f00" stroke-width="6.3" stroke-linecap="round" fill="none"/>
<circle cx="961.90" cy="59.00" r="13.35" fill="url(#sph)"/>
<path d="M961.90 46.85L961.90 57.40M954.20 57.40L969.60 57.40M961.90 71.15L961.90 60.60M954.20 60.60L969.60 60.60" stroke="#f00" stroke-width="6.3" stroke-linecap="round" fill="none"/>
<circle cx="137.50" cy="565.90" r="13.35" fill="url(#sph)"/>
<path d="M137.50 553.75L137.50 531.20M129.80 531.20L145.20 531.20M137.50 578.05L137.50 600.60M129.80 600.60L145.20 600.60" stroke="#f00" stroke-width="6.3" stroke-linecap="round" fill="none"/>
<circle cx="186.60" cy="673.10" r="13.35" fill="url(#sph)"/>
<path d="M186.60 660.95L186.60 657.20M178.90 657.20L194.30 657.20M186.60 685.25L186.60 689.00M178.90 689.00L194.30 689.00" stroke="#f00" stroke-width="6.3" stroke-linecap="round" fill="none"/>
<circle cx="234.00" cy="689.35" r="13.35" fill="url(#sph)"/>
<path d="M234.00 677.20L234.00 681.25M226.30 681.25L241.70 681.25M234.00 701.50L234.00 697.45M226.30 697.45L241.70 697.45" stroke="#f00" stroke-width="6.3" stroke-linecap="round" fill="none"/>
<circle cx="280.80" cy="706.50" r="13.35" fill="url(#sph)"/>
<path d="M280.80 694.35L280.80 704.50M273.10 704.50L288.50 704.50M280.80 718.65L280.80 708.50M273.10 708.50L288.50 708.50" stroke="#f00" stroke-width="6.3" stroke-linecap="round" fill="none"/>
<circle cx="325.40" cy="715.40" r="13.35" fill="url(#sph)"/>
<path d="M325.40 703.25L325.40 714.50M317.70 714.50L333.10 714.50M325.40 727.55L325.40 716.30M317.70 716.30L333.10 716.30" stroke="#f00" stroke-width="6.3" stroke-linecap="round" fill="none"/>
<circle cx="369.35" cy="723.30" r="13.35" fill="url(#sph)"/>
<path d="M369.35 711.15L369.35 721.00M361.65 721.00L377.05 721.00M369.35 735.45L369.35 725.60M361.65 725.60L377.05 725.60" stroke="#f00" stroke-width="6.3" stroke-linecap="round" fill="none"/>
<circle cx="411.85" cy="728.90" r="13.35" fill="url(#sph)"/>
<path d="M411.85 716.75L411.85 727.90M404.15 727.90L419.55 727.90M411.85 741.05L411.85 729.90M404.15 729.90L419.55 729.90" stroke="#f00" stroke-width="6.3" stroke-linecap="round" fill="none"/>
<circle cx="742.20" cy="752.30" r="13.35" fill="url(#sph)"/>
<path d="M742.20 740.15L742.20 751.90M734.50 751.90L749.90 751.90M742.20 764.45L742.20 752.70M734.50 752.70L749.90 752.70" stroke="#f00" stroke-width="6.3" stroke-linecap="round" fill="none"/>
<circle cx="960.00" cy="757.20" r="13.35" fill="url(#sph)"/>
<path d="M952.30 756.90L967.70 756.90M960.00 769.35L960.00 757.50M952.30 757.50L967.70 757.50" stroke="#f00" stroke-width="6.3" stroke-linecap="round" fill="none"/>
<g transform="translate(100.2 414.50) scale(1 1.032)"><text font-size="47" text-anchor="end">0</text></g>
<clipPath id="k1"><path clip-rule="evenodd" d="M-3000 -3000H3000V3000H-3000ZM-23.79 -4.46H-14.37V1.41H-23.79ZM-10.14 -4.46H-1.23V1.41H-10.14Z"/></clipPath>
<g transform="translate(100.2 295.17) scale(1 1.032)"><text clip-path="url(#k1)" font-size="47" text-anchor="end">1</text></g>
<g transform="translate(100.2 175.84) scale(1 1.032)"><text font-size="47" text-anchor="end">2</text></g>
<g transform="translate(100.2 56.51) scale(1 1.032)"><text font-size="47" text-anchor="end">3</text></g>
<g transform="translate(97.9 809.50) scale(1 1.032)"><text font-size="47" text-anchor="end">0</text></g>
<g transform="translate(97.9 697.85) scale(1 1.032)"><text font-size="47" text-anchor="end">5</text></g>
<clipPath id="k2"><path clip-rule="evenodd" d="M-3000 -3000H3000V3000H-3000ZM-49.93 -4.46H-40.51V1.41H-49.93ZM-36.28 -4.46H-27.37V1.41H-36.28Z"/></clipPath>
<g transform="translate(97.9 586.20) scale(1 1.032)"><text clip-path="url(#k2)" font-size="47" text-anchor="end">10</text></g>
<clipPath id="k3"><path clip-rule="evenodd" d="M-3000 -3000H3000V3000H-3000ZM-49.93 -4.46H-40.51V1.41H-49.93ZM-36.28 -4.46H-27.37V1.41H-36.28Z"/></clipPath>
<g transform="translate(97.9 474.55) scale(1 1.032)"><text clip-path="url(#k3)" font-size="47" text-anchor="end">15</text></g>
<g transform="translate(121.10 850.9) scale(1.012 1.032)"><text font-size="47" text-anchor="middle">0.0</text></g>
<g transform="translate(375.75 850.9) scale(1.012 1.032)"><text font-size="47" text-anchor="middle">0.5</text></g>
<clipPath id="k4"><path clip-rule="evenodd" d="M-3000 -3000H3000V3000H-3000ZM-30.32 -4.46H-20.90V1.41H-30.32ZM-16.67 -4.46H-7.76V1.41H-16.67Z"/></clipPath>
<g transform="translate(630.40 850.9) scale(1.012 1.032)"><text clip-path="url(#k4)" font-size="47" text-anchor="middle">1.0</text></g>
<clipPath id="k5"><path clip-rule="evenodd" d="M-3000 -3000H3000V3000H-3000ZM-30.32 -4.46H-20.90V1.41H-30.32ZM-16.67 -4.46H-7.76V1.41H-16.67Z"/></clipPath>
<g transform="translate(885.05 850.9) scale(1.012 1.032)"><text clip-path="url(#k5)" font-size="47" text-anchor="middle">1.5</text></g>
<g transform="translate(1139.70 850.9) scale(1.012 1.032)"><text font-size="47" text-anchor="middle">2.0</text></g>
<clipPath id="k6"><path clip-rule="evenodd" d="M-3000 -3000H3000V3000H-3000ZM22.14 -4.50H31.64V1.42H22.14ZM35.91 -4.50H44.89V1.42H35.91Z"/></clipPath>
<g transform="translate(762.90 375.50) scale(1 1.02)"><text clip-path="url(#k6)" font-size="47.4" text-anchor="middle">0.01</text></g>
<clipPath id="k7"><path clip-rule="evenodd" d="M-3000 -3000H3000V3000H-3000ZM8.96 -4.50H18.46V1.42H8.96ZM22.72 -4.50H31.71V1.42H22.72Z"/></clipPath>
<g transform="translate(913.30 375.00) scale(1 1.02)"><text clip-path="url(#k7)" font-size="47.4" text-anchor="middle">0.1</text></g>
<clipPath id="k8"><path clip-rule="evenodd" d="M-3000 -3000H3000V3000H-3000ZM-10.81 -4.50H-1.31V1.42H-10.81ZM2.96 -4.50H11.94V1.42H2.96Z"/></clipPath>
<g transform="translate(1063.70 375.00) scale(1 1.02)"><text clip-path="url(#k8)" font-size="47.4" text-anchor="middle">1</text></g>
<clipPath id="k9"><path clip-rule="evenodd" d="M-3000 -3000H3000V3000H-3000ZM-23.99 -4.50H-14.49V1.42H-23.99ZM-10.22 -4.50H-1.24V1.42H-10.22Z"/></clipPath>
<g transform="translate(745.60 324.50) scale(1 1.02)"><text clip-path="url(#k9)" font-size="47.4" text-anchor="end">0.1</text></g>
<clipPath id="k10"><path clip-rule="evenodd" d="M-3000 -3000H3000V3000H-3000ZM-23.99 -4.50H-14.49V1.42H-23.99ZM-10.22 -4.50H-1.24V1.42H-10.22Z"/></clipPath>
<g transform="translate(745.60 214.00) scale(1 1.02)"><text clip-path="url(#k10)" font-size="47.4" text-anchor="end">1</text></g>
<clipPath id="k11"><path clip-rule="evenodd" d="M-3000 -3000H3000V3000H-3000ZM153.64 -3.90H161.86V1.23H153.64ZM165.55 -3.90H173.32V1.23H165.55Z"/></clipPath>
<g transform="translate(874.85 281.20) scale(1.0035 1.0025)"><text clip-path="url(#k11)" font-size="41" fill="#00f">Slope = 1/2</text></g>
<g transform="translate(358.36 907.42) scale(1.0342 1.0152)"><text font-size="45" fill="#000">Perturbation strength(mG)</text></g>
<text transform="translate(49.10 427.34) rotate(-90) scale(0.9985 0.9976)" font-size="43" fill="#000">Peak separation(kHz)</text>
<text transform="translate(38.99 748.92) rotate(-90) scale(0.9933 0.9524)" font-size="43" fill="#000">Enhancement</text>
<g transform="translate(129.48 94.10) scale(0.8775 1.0164)"><text font-size="46" fill="#000">(a)</text></g>
<g transform="translate(125.38 774.95) scale(0.8755 1.0211)"><text font-size="46" fill="#000">(b)</text></g>
</svg>
</body></html>
